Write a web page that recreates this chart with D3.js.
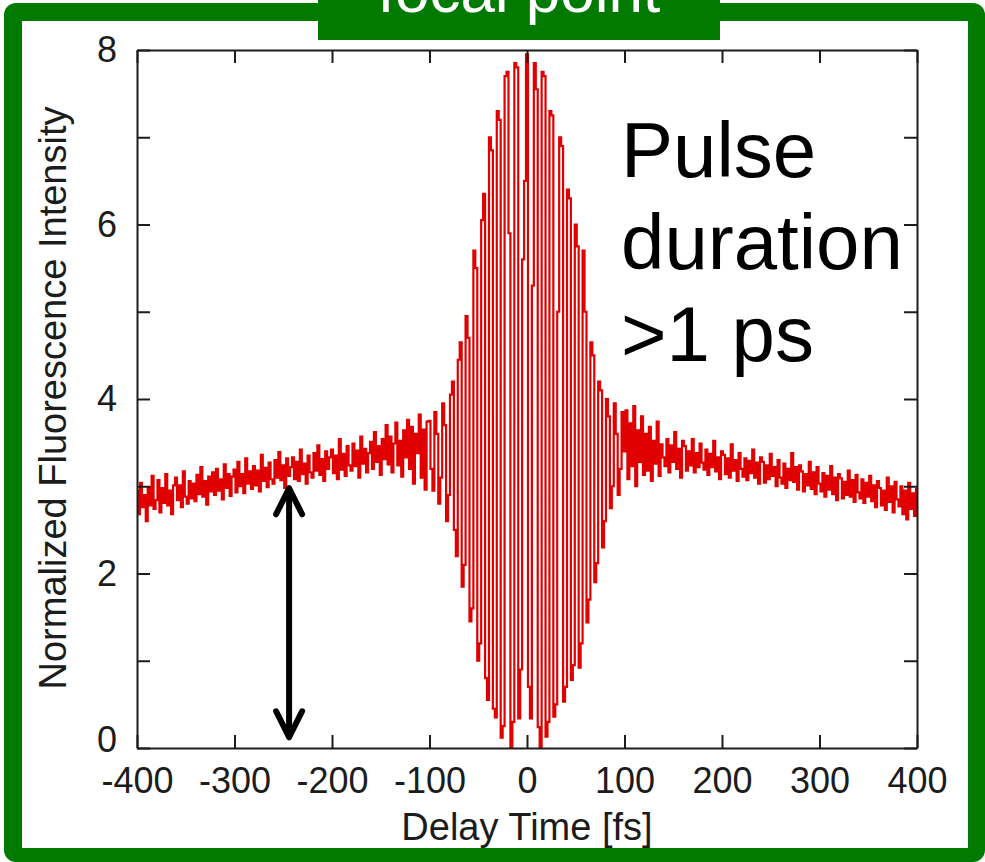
<!DOCTYPE html>
<html>
<head>
<meta charset="utf-8">
<script src="https://cdn.jsdelivr.net/npm/d3@7"></script>
<style>
  html, body { margin: 0; padding: 0; background: #ffffff; }
  svg { display: block; }
  text { font-family: "Liberation Sans", Arial, Helvetica, sans-serif; }
</style>
</head>
<body>
<svg id="chart" width="985" height="862"></svg>
<script>
// ---------------- data ----------------
const titleText = "focal point";
const xLabel = "Delay Time [fs]";
const yLabel = "Normalized Fluorescence Intensity";
const noteLines = ["Pulse", "duration", ">1 ps"];

const xTickValues = [-400, -300, -200, -100, 0, 100, 200, 300, 400];
const yTickValues = [0, 1, 2, 3, 4, 5, 6, 7, 8];
const yLabelValues = [0, 2, 4, 6, 8];

const sampleStep = 2; // fs between samples

// delay -400 .. -102 fs
const leftWingStart = -400;
const leftWing = [
  2.95, 2.68, 3.04, 2.76, 2.90, 2.60, 2.99, 2.78, 3.12, 2.74,
  2.84, 3.07, 2.70, 2.98, 2.81, 3.14, 2.78, 2.95, 2.68, 3.01,
  3.10, 2.84, 3.01, 2.76, 3.17, 2.88, 2.80, 3.06, 2.86, 3.03,
  2.83, 3.13, 2.91, 3.22, 2.88, 3.06, 2.79, 3.11, 2.94, 3.16,
  2.90, 3.20, 2.95, 3.08, 2.85, 3.25, 2.98, 3.14, 2.89, 3.11,
  3.19, 2.93, 3.28, 3.00, 3.14, 2.92, 3.32, 3.03, 3.17, 2.97,
  3.23, 3.01, 3.18, 2.94, 3.36, 3.06, 3.21, 2.99, 3.27, 3.08,
  3.03, 3.30, 3.10, 3.39, 3.07, 3.24, 2.98, 3.32, 3.12, 3.22,
  3.33, 3.08, 3.28, 3.06, 3.42, 3.14, 3.26, 3.03, 3.35, 3.16,
  3.10, 3.38, 3.18, 3.47, 3.13, 3.31, 3.06, 3.40, 3.20, 3.33,
  3.42, 3.15, 3.35, 3.08, 3.54, 3.19, 3.37, 3.12, 3.46, 3.24,
  3.18, 3.49, 3.23, 3.41, 3.10, 3.57, 3.26, 3.43, 3.16, 3.38,
  3.51, 3.20, 3.62, 3.28, 3.46, 3.13, 3.54, 3.31, 3.70, 3.25,
  3.57, 3.16, 3.49, 3.73, 3.24, 3.52, 3.11, 3.64, 3.33, 3.76,
  3.20, 3.68, 3.03, 3.60, 3.38, 3.82, 3.10, 3.65, 2.96, 3.74
];

// delay -100 .. 100 fs (interference fringes)
const coreStart = -100;
const core = [
  3.75, 3.20, 2.95, 3.85, 3.60, 2.80, 3.10, 3.95, 3.70, 2.60,
  2.90, 4.05, 4.20, 2.50, 2.20, 4.45, 4.65, 1.85, 2.10, 4.95,
  4.70, 1.45, 1.60, 5.70, 5.50, 1.00, 1.20, 6.05, 6.35, 0.80,
  0.55, 7.00, 6.85, 0.45, 0.35, 7.30, 7.20, 0.12, 0.25, 7.70,
  7.75, 5.90, 0.00, 0.30, 7.85, 7.80, 0.34, 0.90, 5.60, 6.50,
  7.95,
  0.70, 0.34, 5.30, 7.85, 7.55, 0.24, 0.00, 7.75, 7.70, 0.13,
  0.30, 7.30, 7.25, 0.36, 0.50, 5.00, 7.00, 6.90, 0.53, 0.70,
  6.40, 6.30, 0.78, 0.95, 6.00, 5.75, 0.92, 1.20, 5.70, 5.00,
  1.44, 1.70, 4.65, 4.50, 1.90, 2.12, 4.20, 4.10, 2.30, 2.60,
  4.00, 3.80, 2.75, 3.00, 3.95, 3.60, 2.90, 3.20, 3.85, 3.40
];

// delay 102 .. 400 fs
const rightWingStart = 102;
const rightWing = [
  3.87, 3.08, 3.72, 3.23, 3.92, 3.00, 3.64, 3.28, 3.80, 3.13,
  3.60, 3.18, 3.68, 3.06, 3.52, 3.26, 3.74, 3.12, 3.48, 3.33,
  3.23, 3.54, 3.16, 3.47, 3.28, 3.62, 3.20, 3.43, 3.10, 3.52,
  3.46, 3.18, 3.40, 3.24, 3.54, 3.16, 3.38, 3.22, 3.49, 3.27,
  3.19, 3.42, 3.13, 3.37, 3.22, 3.52, 3.17, 3.33, 3.08, 3.40,
  3.36, 3.14, 3.32, 3.10, 3.48, 3.18, 3.30, 3.06, 3.38, 3.20,
  3.11, 3.32, 3.07, 3.29, 3.15, 3.42, 3.10, 3.27, 3.03, 3.33,
  3.28, 3.04, 3.24, 3.08, 3.37, 3.12, 3.22, 3.00, 3.30, 3.10,
  3.03, 3.26, 2.98, 3.20, 3.07, 3.38, 3.05, 3.22, 2.96, 3.24,
  3.17, 2.94, 3.14, 3.01, 3.28, 2.97, 3.16, 2.91, 3.22, 3.03,
  2.94, 3.15, 2.88, 3.12, 2.96, 3.23, 2.91, 3.10, 2.84, 3.14,
  3.09, 2.86, 3.05, 2.90, 3.18, 2.88, 3.07, 2.82, 3.13, 2.93,
  2.86, 3.08, 2.81, 3.04, 2.88, 3.12, 2.83, 3.01, 2.76, 3.06,
  2.98, 2.78, 2.95, 2.73, 3.10, 2.82, 3.00, 2.70, 3.05, 2.85,
  2.77, 3.00, 2.68, 2.95, 2.62, 3.04, 2.74, 2.92, 2.66, 2.97
];

// arrow annotation (data units)
const arrowDelay = -244;
const arrowFrom = 0.1;
const arrowTo = 3.0;

// ---------------- drawing ----------------
const svg = d3.select("#chart");
const green = "#017a01";
const ink = "#1c1c1c";
const red = "#e00000";

// green frame
svg.append("rect").attr("x", 4).attr("y", 3).attr("width", 981).attr("height", 859)
  .attr("rx", 12).attr("fill", green);
svg.append("rect").attr("x", 22).attr("y", 21).attr("width", 946).attr("height", 827)
  .attr("fill", "#ffffff");

// title tab
svg.append("rect").attr("x", 318).attr("y", 0).attr("width", 402).attr("height", 40)
  .attr("fill", green);
svg.append("text").attr("x", 519).attr("y", 12).attr("text-anchor", "middle")
  .attr("font-size", 62).attr("fill", "#ffffff").text(titleText);

const L = 137, R = 917, T = 50, B = 748;
const x = d3.scaleLinear().domain([-400, 400]).range([L, R]);
const y = d3.scaleLinear().domain([0, 8]).range([B, T]);

function segment(start, vals) {
  return vals.map((v, i) => ({ t: start + i * sampleStep, v: v }));
}
const points = [].concat(
  segment(leftWingStart, leftWing),
  segment(coreStart, core),
  segment(rightWingStart, rightWing)
);

// trace
const clipId = "plotclip";
svg.append("clipPath").attr("id", clipId).append("rect")
  .attr("x", L).attr("y", T - 2).attr("width", R - L).attr("height", B - T + 4);

const line = d3.line().x(d => x(d.t)).y(d => y(d.v)).curve(d3.curveStep);
svg.append("path").datum(points)
  .attr("clip-path", `url(#${clipId})`)
  .attr("d", line)
  .attr("fill", "none")
  .attr("stroke", red)
  .attr("stroke-width", 2.2)
  .attr("stroke-linejoin", "miter");

// axes
const tick = 13;
const fmt = d => String(d).replace("\u2212", "-");
const gBottom = svg.append("g").attr("transform", `translate(0,${B})`)
  .call(d3.axisBottom(x).tickValues(xTickValues).tickSizeInner(-tick).tickSizeOuter(0)
    .tickPadding(19).tickFormat(fmt));
const gTop = svg.append("g").attr("transform", `translate(0,${T})`)
  .call(d3.axisTop(x).tickValues(xTickValues).tickSizeInner(-tick).tickSizeOuter(0).tickFormat(""));
const gLeft = svg.append("g").attr("transform", `translate(${L},0)`)
  .call(d3.axisLeft(y).tickValues(yTickValues).tickSizeInner(-tick).tickSizeOuter(0)
    .tickPadding(20).tickFormat(d => yLabelValues.includes(d) ? fmt(d) : ""));
const gRight = svg.append("g").attr("transform", `translate(${R},0)`)
  .call(d3.axisRight(y).tickValues(yTickValues).tickSizeInner(-tick).tickSizeOuter(0).tickFormat(""));

[gBottom, gTop, gLeft, gRight].forEach(g => {
  g.select(".domain").attr("stroke", ink).attr("stroke-width", 2);
  g.selectAll(".tick line").attr("stroke", ink).attr("stroke-width", 2);
  g.selectAll(".tick text").attr("fill", ink).attr("font-size", 36)
    .attr("font-family", "'Liberation Sans', Arial, sans-serif");
});
gBottom.selectAll(".tick text").attr("dy", "0.71em");
// keep the "0" label of the y axis clear of the x labels
gLeft.selectAll(".tick text").filter(d => d === 0).attr("dy", "0.1em");

// axis titles
svg.append("text").attr("x", 527).attr("y", 840).attr("text-anchor", "middle")
  .attr("font-size", 38).attr("fill", ink).text(xLabel);
svg.append("text").attr("transform", "translate(66,398) rotate(-90)")
  .attr("text-anchor", "middle").attr("font-size", 38).attr("fill", ink).text(yLabel);

// annotation text
const note = svg.append("text").attr("font-size", 78).attr("fill", "#000");
noteLines.forEach((s, i) => {
  note.append("tspan").attr("x", 621).attr("y", 177 + i * 92).text(s);
});

// double-headed arrow
const ax = x(arrowDelay);
const yTop = y(arrowTo), yBot = y(arrowFrom);
const arrow = svg.append("g").attr("stroke", "#000").attr("stroke-width", 6)
  .attr("fill", "none").attr("stroke-linecap", "round").attr("stroke-linejoin", "round");
arrow.append("line").attr("x1", ax).attr("x2", ax).attr("y1", yTop + 3).attr("y2", yBot - 3);
arrow.append("polyline").attr("points", `${ax - 13},${yTop + 28} ${ax},${yTop + 2} ${ax + 13},${yTop + 28}`);
arrow.append("polyline").attr("points", `${ax - 13},${yBot - 28} ${ax},${yBot - 2} ${ax + 13},${yBot - 28}`);
</script>
</body>
</html>
